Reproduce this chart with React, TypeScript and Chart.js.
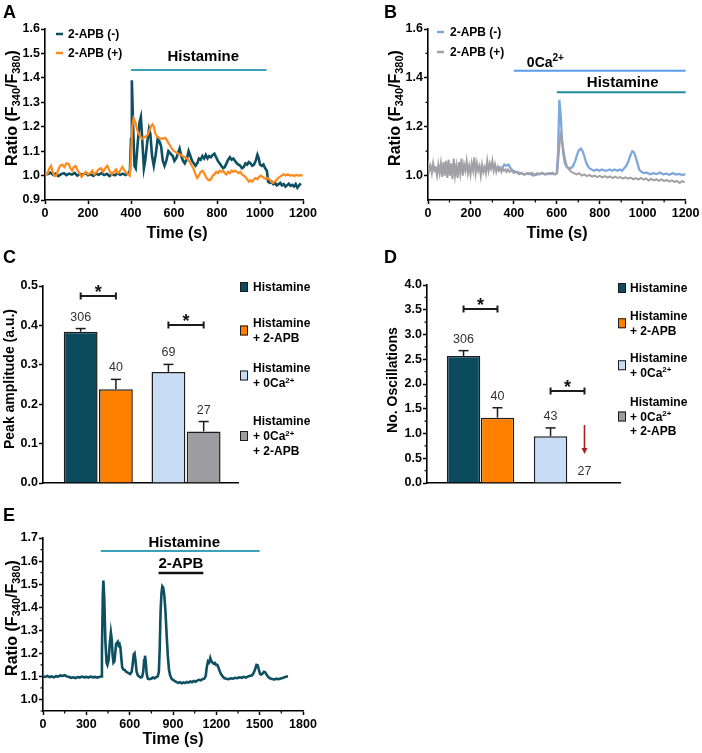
import React, { useEffect, useRef } from 'react';
import { Chart, registerables } from 'chart.js';

Chart.register(...registerables);

// ======================= DATA =======================
// Panel A
const xTicksA = [0, 200, 400, 600, 800, 1000, 1200];
const yTicksA = [0.9, 1.0, 1.1, 1.2, 1.3, 1.4, 1.5, 1.6];
const legendA = ['2-APB (-)', '2-APB (+)'];
const drugA = [{ label: 'Histamine', start: 400, end: 1030 }];
const traceA_minus: [number, number][] = [
  [0, 1.01], [12, 1.005], [25, 1.012], [38, 1.003], [50, 1.008], [62, 0.998], [75, 1.006], [88, 1.01], [100, 1.002],
  [112, 1.008], [125, 1.004], [138, 1.011], [150, 1.0], [162, 1.007], [175, 1.003], [188, 1.01], [200, 1.001],
  [212, 1.006], [225, 0.999], [238, 1.008], [250, 1.003], [262, 1.01], [275, 1.002], [288, 1.007], [300, 0.998],
  [312, 1.006], [325, 1.001], [338, 1.009], [350, 1.003], [362, 1.008], [375, 1.002], [388, 1.01], [395, 1.02],
  [400, 1.15], [404, 1.39], [410, 1.2], [416, 1.04], [422, 1.03], [430, 1.12], [440, 1.22], [446, 1.24], [452, 1.15],
  [460, 1.03], [466, 1.06], [476, 1.14], [484, 1.19], [490, 1.17], [498, 1.08], [506, 1.04], [514, 1.08], [524, 1.15],
  [532, 1.14], [540, 1.12], [548, 1.06], [556, 1.04], [564, 1.06], [574, 1.1], [584, 1.09], [594, 1.08], [602, 1.06],
  [610, 1.07], [618, 1.09], [626, 1.11], [634, 1.08], [642, 1.06], [650, 1.05], [660, 1.07], [668, 1.1], [676, 1.08],
  [684, 1.06], [692, 1.05], [700, 1.04], [708, 1.05], [716, 1.07], [724, 1.065], [732, 1.08], [740, 1.07], [748, 1.085],
  [756, 1.07], [764, 1.08], [772, 1.075], [780, 1.085], [788, 1.09], [796, 1.075], [804, 1.06], [812, 1.05], [820, 1.04],
  [828, 1.03], [836, 1.035], [844, 1.05], [852, 1.065], [860, 1.075], [868, 1.065], [876, 1.07], [884, 1.06], [892, 1.05],
  [900, 1.045], [908, 1.04], [916, 1.03], [924, 1.035], [932, 1.05], [940, 1.045], [948, 1.055], [956, 1.05], [964, 1.04],
  [972, 1.045], [980, 1.06], [988, 1.085], [994, 1.07], [1000, 1.045], [1008, 1.04], [1016, 1.045], [1024, 1.03],
  [1032, 1.02], [1038, 0.975], [1046, 0.97], [1054, 0.975], [1062, 0.965], [1070, 0.97], [1078, 0.96], [1086, 0.965],
  [1094, 0.97], [1102, 0.96], [1110, 0.965], [1118, 0.955], [1126, 0.96], [1134, 0.967], [1142, 0.958], [1150, 0.962],
  [1158, 0.955], [1166, 0.965], [1174, 0.95], [1182, 0.96], [1190, 0.968],
];
const traceA_plus: [number, number][] = [
  [0, 1.01], [10, 1.005], [20, 1.03], [28, 1.04], [36, 1.015], [44, 0.998], [52, 1.0], [60, 1.02], [70, 1.04], [80, 1.045],
  [90, 1.035], [100, 1.05], [110, 1.048], [118, 1.03], [126, 1.02], [134, 1.035], [142, 1.04], [150, 1.025], [160, 1.01],
  [170, 0.995], [180, 1.005], [190, 1.015], [200, 1.005], [210, 1.01], [220, 1.02], [230, 1.005], [240, 1.015],
  [250, 1.025], [260, 1.03], [270, 1.015], [280, 1.03], [290, 1.04], [300, 1.02], [310, 1.005], [320, 1.015], [330, 1.025],
  [340, 1.01], [350, 1.02], [360, 1.035], [370, 1.02], [380, 1.01], [388, 1.005], [394, 1.0], [400, 1.08], [406, 1.2],
  [412, 1.235], [420, 1.22], [428, 1.19], [436, 1.17], [444, 1.16], [452, 1.15], [460, 1.155], [468, 1.16], [476, 1.165],
  [484, 1.18], [492, 1.2], [500, 1.21], [506, 1.2], [514, 1.17], [522, 1.16], [530, 1.155], [540, 1.15], [550, 1.152],
  [560, 1.155], [570, 1.14], [580, 1.125], [590, 1.11], [600, 1.1], [610, 1.095], [620, 1.09], [630, 1.085], [640, 1.08],
  [650, 1.075], [660, 1.07], [670, 1.06], [680, 1.045], [690, 1.03], [700, 1.005], [708, 0.99], [716, 1.0], [724, 1.015],
  [732, 1.02], [740, 1.01], [748, 0.995], [756, 0.985], [764, 0.98], [772, 0.985], [780, 1.0], [788, 1.005], [796, 1.015],
  [804, 1.01], [812, 1.02], [820, 1.015], [828, 1.02], [836, 1.01], [844, 1.005], [852, 1.015], [860, 1.01], [868, 1.02],
  [876, 1.015], [884, 1.02], [892, 1.015], [900, 1.01], [908, 1.015], [916, 1.005], [924, 1.0], [932, 0.995], [940, 0.985],
  [948, 0.975], [956, 0.98], [964, 0.975], [972, 0.985], [980, 0.99], [988, 0.985], [996, 0.995], [1004, 1.0], [1012, 0.995],
  [1020, 0.99], [1028, 0.985], [1036, 0.99], [1044, 0.985], [1052, 0.975], [1060, 0.97], [1068, 0.975], [1076, 0.98],
  [1084, 0.99], [1092, 0.995], [1100, 1.0], [1110, 1.005], [1120, 1.0], [1130, 1.005], [1140, 1.0], [1150, 1.002],
  [1160, 0.998], [1170, 1.003], [1180, 1.0], [1190, 1.002], [1198, 1.0],
];

// Panel B
const xTicksB = [0, 200, 400, 600, 800, 1000, 1200];
const xMinorB = [100, 300, 500, 700, 900, 1100];
const yTicksB = [1.0, 1.2, 1.4, 1.6];
const yMinorB = [1.1, 1.3, 1.5];
const legendB = ['2-APB (-)', '2-APB (+)'];
const drugB = [
  { label: '0Ca2+', start: 400, end: 1200 },
  { label: 'Histamine', start: 600, end: 1200 },
];
const traceB_minus: [number, number][] = [
  [0, 1.04], [15, 1.03], [30, 1.035], [45, 1.025], [60, 1.04], [75, 1.03], [90, 1.035], [105, 1.025], [120, 1.04],
  [135, 1.03], [150, 1.035], [165, 1.03], [180, 1.04], [195, 1.03], [210, 1.035], [225, 1.025], [240, 1.03], [255, 1.02],
  [270, 1.03], [285, 1.025], [300, 1.035], [315, 1.03], [330, 1.035], [345, 1.03], [355, 1.045], [365, 1.04], [375, 1.045],
  [385, 1.03], [395, 1.02], [410, 1.015], [430, 1.01], [450, 1.005], [470, 1.01], [490, 1.0], [510, 1.005], [530, 1.01],
  [550, 1.005], [570, 1.01], [590, 1.005], [600, 1.01], [606, 1.1], [612, 1.31], [618, 1.25], [624, 1.15], [630, 1.09],
  [638, 1.05], [646, 1.035], [656, 1.03], [666, 1.03], [676, 1.04], [686, 1.06], [696, 1.09], [704, 1.105], [712, 1.11],
  [720, 1.1], [728, 1.08], [736, 1.055], [744, 1.04], [752, 1.03], [762, 1.025], [774, 1.02], [786, 1.025], [798, 1.02],
  [810, 1.025], [822, 1.02], [834, 1.02], [846, 1.025], [858, 1.02], [870, 1.025], [882, 1.02], [894, 1.025], [904, 1.02],
  [914, 1.03], [924, 1.04], [934, 1.06], [944, 1.085], [952, 1.1], [960, 1.095], [968, 1.075], [976, 1.05], [984, 1.025],
  [994, 1.015], [1006, 1.01], [1020, 1.012], [1035, 1.005], [1050, 1.01], [1065, 1.006], [1080, 1.012], [1095, 1.005],
  [1110, 1.008], [1125, 1.003], [1140, 1.01], [1155, 1.004], [1170, 1.007], [1185, 1.002], [1200, 1.006],
];
const traceB_plus: [number, number][] = [
  [0, 1.06], [6, 1.02], [12, 1.04], [18, 1.01], [24, 1.05], [30, 1.02], [36, 1.03], [42, 1.0], [48, 1.045], [54, 1.01],
  [60, 1.05], [66, 0.995], [72, 1.055], [78, 1.0], [84, 1.06], [90, 0.99], [96, 1.065], [102, 1.0], [108, 1.05], [114, 0.985],
  [120, 1.07], [126, 1.0], [132, 1.04], [138, 0.99], [144, 1.055], [150, 1.01], [156, 1.07], [162, 1.0], [168, 1.045],
  [174, 1.02], [180, 1.06], [186, 1.01], [192, 1.04], [198, 1.005], [204, 1.05], [210, 1.02], [216, 1.075], [222, 1.01],
  [228, 1.05], [234, 1.02], [240, 1.04], [246, 1.0], [252, 1.045], [258, 1.015], [264, 1.035], [270, 1.01], [276, 1.06],
  [282, 1.02], [288, 1.05], [294, 1.03], [300, 1.06], [306, 1.02], [312, 1.045], [318, 1.015], [324, 1.035], [330, 1.02],
  [336, 1.03], [342, 1.015], [348, 1.03], [354, 1.02], [360, 1.025], [366, 1.015], [372, 1.025], [380, 1.015], [390, 1.02],
  [400, 1.01], [412, 1.015], [424, 1.005], [436, 1.012], [448, 1.003], [460, 1.01], [472, 1.005], [484, 1.012], [496, 1.003],
  [508, 1.01], [520, 1.005], [532, 1.012], [544, 1.004], [556, 1.01], [568, 1.005], [580, 1.012], [592, 1.004], [602, 1.01],
  [610, 1.1], [617, 1.17], [622, 1.16], [630, 1.11], [638, 1.07], [646, 1.04], [656, 1.025], [668, 1.015], [680, 1.01],
  [692, 1.005], [704, 1.01], [716, 1.0], [728, 1.005], [740, 0.998], [752, 1.003], [764, 0.996], [776, 1.0], [788, 0.994],
  [800, 0.999], [812, 0.993], [824, 0.998], [836, 0.992], [848, 0.997], [860, 0.99], [872, 0.996], [884, 0.99], [896, 0.994],
  [908, 0.988], [920, 0.993], [932, 0.987], [944, 0.992], [956, 0.985], [968, 0.99], [980, 0.984], [992, 0.99], [1004, 0.983],
  [1016, 0.988], [1028, 0.98], [1040, 0.986], [1052, 0.98], [1064, 0.985], [1076, 0.978], [1088, 0.984], [1100, 0.977],
  [1112, 0.982], [1124, 0.975], [1136, 0.98], [1148, 0.974], [1160, 0.978], [1172, 0.97], [1184, 0.977], [1196, 0.972],
];

// Panels C and D
const barCategories = ['Histamine', 'Histamine + 2-APB', 'Histamine + 0Ca2+', 'Histamine + 0Ca2+ + 2-APB'];
const yTicksC = [0, 0.1, 0.2, 0.3, 0.4, 0.5];
const peakMean = [0.384, 0.238, 0.282, 0.131];
const peakSem = [0.008, 0.025, 0.019, 0.025];
const peakN = [306, 40, 69, 27];
const peakSig: [number, number][] = [[0, 1], [2, 3]];

const yTicksD = [0, 0.5, 1.0, 1.5, 2.0, 2.5, 3.0, 3.5, 4.0];
const yMinorD = [0.25, 0.75, 1.25, 1.75, 2.25, 2.75, 3.25, 3.75];
const oscMean = [2.567, 1.32, 0.945, 0];
const oscSem = [0.107, 0.2, 0.168, 0];
const oscN = [306, 40, 43, 27];
const oscSig: [number, number][] = [[0, 1], [2, 3]];

// Panel E
const xTicksE = [0, 300, 600, 900, 1200, 1500, 1800];
const xMinorE = [150, 450, 750, 1050, 1350, 1650];
const yTicksE = [1.0, 1.1, 1.2, 1.3, 1.4, 1.5, 1.6, 1.7];
const yMinorE = [0.95, 1.05, 1.15, 1.25, 1.35, 1.45, 1.55, 1.65];
const drugE = [
  { label: 'Histamine', start: 400, end: 1500 },
  { label: '2-APB', start: 800, end: 1110 },
];
const traceE: [number, number][] = [
  [0, 1.1], [15, 1.098], [30, 1.102], [45, 1.097], [60, 1.1], [75, 1.096], [90, 1.101], [105, 1.099], [120, 1.104],
  [135, 1.102], [150, 1.105], [165, 1.1], [180, 1.097], [195, 1.094], [210, 1.096], [225, 1.093], [240, 1.097], [255, 1.095],
  [270, 1.099], [285, 1.096], [300, 1.098], [315, 1.095], [330, 1.099], [345, 1.096], [360, 1.098], [375, 1.095], [390, 1.097],
  [402, 1.1], [408, 1.2], [414, 1.45], [418, 1.515], [424, 1.44], [432, 1.25], [440, 1.16], [446, 1.15], [454, 1.17],
  [462, 1.24], [470, 1.29], [476, 1.26], [482, 1.19], [488, 1.16], [494, 1.165], [500, 1.2], [506, 1.24], [512, 1.245],
  [518, 1.25], [524, 1.235], [530, 1.24], [536, 1.225], [542, 1.18], [548, 1.14], [556, 1.13], [566, 1.128], [576, 1.12],
  [590, 1.115], [604, 1.11], [614, 1.12], [622, 1.16], [628, 1.195], [634, 1.2], [640, 1.17], [648, 1.12], [656, 1.105],
  [666, 1.1], [676, 1.095], [686, 1.098], [694, 1.12], [700, 1.17], [706, 1.19], [712, 1.16], [718, 1.11], [726, 1.09],
  [736, 1.088], [748, 1.09], [760, 1.095], [772, 1.092], [784, 1.097], [794, 1.1], [802, 1.12], [808, 1.22], [814, 1.38],
  [820, 1.46], [826, 1.49], [832, 1.485], [840, 1.45], [848, 1.38], [856, 1.28], [864, 1.19], [872, 1.13], [880, 1.105],
  [890, 1.09], [900, 1.085], [912, 1.08], [924, 1.075], [936, 1.072], [948, 1.075], [960, 1.07], [972, 1.074], [984, 1.071],
  [996, 1.076], [1008, 1.073], [1020, 1.078], [1032, 1.075], [1044, 1.08], [1056, 1.077], [1068, 1.082], [1080, 1.085],
  [1092, 1.083], [1104, 1.088], [1116, 1.09], [1126, 1.1], [1134, 1.14], [1142, 1.165], [1150, 1.16], [1158, 1.18],
  [1166, 1.165], [1174, 1.16], [1182, 1.155], [1190, 1.158], [1198, 1.15], [1206, 1.15], [1214, 1.14], [1222, 1.125],
  [1232, 1.11], [1244, 1.1], [1256, 1.092], [1270, 1.09], [1285, 1.088], [1300, 1.092], [1315, 1.09], [1330, 1.094],
  [1345, 1.092], [1360, 1.096], [1375, 1.094], [1390, 1.098], [1405, 1.095], [1420, 1.1], [1435, 1.103], [1448, 1.105],
  [1458, 1.115], [1468, 1.13], [1478, 1.15], [1486, 1.148], [1494, 1.13], [1502, 1.112], [1510, 1.108], [1520, 1.112],
  [1530, 1.12], [1538, 1.118], [1546, 1.11], [1556, 1.1], [1568, 1.093], [1580, 1.09], [1592, 1.088], [1604, 1.087],
  [1616, 1.09], [1628, 1.088], [1640, 1.09], [1652, 1.092], [1664, 1.094], [1676, 1.098], [1688, 1.1], [1696, 1.101],
];

// Axis titles
const ratioTitle = 'Ratio (F340/F380)';
const timeTitle = 'Time (s)';
const peakTitle = 'Peak amplitude (a.u.)';
const oscTitle = 'No. Oscillations';

// ======================= STYLE =======================
const FONT = "'Liberation Sans', Arial, Helvetica, sans-serif";
const TEAL = '#0e4f61';
const ORANGE = '#ff8a1c';
const BLUE = '#7fa7dc';
const GRAY = '#a1a1a5';
const HIST_LINE = '#3aa1b6';
const HIST_LINE_B = '#1e8b9c';
const CA_LINE = '#5b9de8';
const BAR_COLORS = ['#0b4b5d', '#ff8000', '#c8ddf5', '#9d9da1'];
const BAR_EDGE = '#1c1c1c';
const TICK_SIZE = 12.5;

type Seg = { t: string; sub?: boolean; sup?: boolean };

function rich(s: string): Seg[] {
  const out: Seg[] = [];
  const re = /(F)(\d{3})|(Ca)(2\+)/g;
  let last = 0;
  let m: RegExpExecArray | null;
  while ((m = re.exec(s))) {
    const head = m[1] || m[3];
    const tail = m[2] || m[4];
    out.push({ t: s.slice(last, m.index) + head });
    out.push({ t: tail, sub: !!m[2], sup: !!m[4] });
    last = m.index + m[0].length;
  }
  if (last < s.length) out.push({ t: s.slice(last) });
  return out;
}

function fnt(size: number, weight = 'bold') {
  return `${weight} ${size}px ${FONT}`;
}

function drawText(ctx: CanvasRenderingContext2D, s: string, x: number, y: number, size: number,
  align: 'left' | 'center' | 'right' = 'left', color = '#000', weight = 'bold') {
  const segs = rich(s);
  const items = segs.map((sg) => {
    const fs = sg.sub || sg.sup ? Math.round(size * 0.7) : size;
    ctx.font = fnt(fs, weight);
    return { sg, fs, w: ctx.measureText(sg.t).width };
  });
  const total = items.reduce((a, b) => a + b.w, 0);
  let cx = align === 'center' ? x - total / 2 : align === 'right' ? x - total : x;
  const base = y + size * 0.36;
  ctx.fillStyle = color;
  ctx.textAlign = 'left';
  ctx.textBaseline = 'alphabetic';
  for (const it of items) {
    ctx.font = fnt(it.fs, weight);
    const by = it.sg.sub ? base + size * 0.22 : it.sg.sup ? base - size * 0.4 : base;
    ctx.fillText(it.sg.t, cx, by);
    cx += it.w;
  }
}

function drawRotated(ctx: CanvasRenderingContext2D, s: string, cx: number, cy: number, size: number) {
  ctx.save();
  ctx.translate(cx, cy);
  ctx.rotate(-Math.PI / 2);
  drawText(ctx, s, 0, 0, size, 'center');
  ctx.restore();
}

function seg(ctx: CanvasRenderingContext2D, x1: number, y1: number, x2: number, y2: number) {
  ctx.beginPath();
  ctx.moveTo(x1, y1);
  ctx.lineTo(x2, y2);
  ctx.stroke();
}

function minorTicks(ctx: CanvasRenderingContext2D, chart: any, axis: 'x' | 'y', values: number[]) {
  const s = chart.scales[axis];
  const a = chart.chartArea;
  ctx.strokeStyle = '#000';
  ctx.lineWidth = 1.2;
  ctx.beginPath();
  for (const v of values) {
    const p = s.getPixelForValue(v);
    if (axis === 'x') { ctx.moveTo(p, a.bottom); ctx.lineTo(p, a.bottom + 2.5); }
    else { ctx.moveTo(a.left - 2.5, p); ctx.lineTo(a.left, p); }
  }
  ctx.stroke();
}

const overlay = (id: string, draw: (chart: any, ctx: CanvasRenderingContext2D) => void) => ({
  id,
  afterDraw(chart: any) {
    const ctx = chart.ctx;
    ctx.save();
    draw(chart, ctx);
    ctx.restore();
  },
});

function linAxis(o: { min: number; max: number; ticks: number[]; fmt: (v: number) => string; size: number; horizontal: boolean }) {
  return {
    type: 'linear',
    min: o.min,
    max: o.max,
    offset: false,
    afterBuildTicks: (s: any) => { s.ticks = o.ticks.map((v) => ({ value: v })); },
    afterFit: (s: any) => { if (o.horizontal) s.height = o.size; else s.width = o.size; },
    grid: { display: true, drawOnChartArea: false, drawTicks: true, tickLength: 4, tickColor: '#000', tickWidth: 1.5, offset: false },
    border: { display: true, color: '#000', width: 1.6 },
    ticks: {
      autoSkip: false, maxRotation: 0, minRotation: 0, padding: o.horizontal ? 2.5 : 1, color: '#000',
      font: { family: FONT, size: TICK_SIZE, weight: 'bold' },
      callback: (v: any) => o.fmt(Number(v)),
    },
  };
}

const f1 = (v: number) => v.toFixed(1);
const f0 = (v: number) => String(Math.round(v));
const pts = (arr: [number, number][]) => arr.map(([x, y]) => ({ x, y }));

function baseOptions(cw: number, ch: number, area: { l: number; r: number; t: number; b: number }, yW: number, xH: number) {
  return {
    responsive: false,
    maintainAspectRatio: false,
    animation: false,
    devicePixelRatio: 1,
    events: [],
    layout: { autoPadding: false, padding: { left: area.l - yW, right: cw - area.r, top: area.t, bottom: ch - area.b - xH } },
    plugins: { legend: { display: false }, tooltip: { enabled: false }, title: { display: false } },
  };
}

function lineDs(arr: [number, number][], color: string, width: number, order: number) {
  return { data: pts(arr), borderColor: color, backgroundColor: color, borderWidth: width, pointRadius: 0, tension: 0, order, fill: false };
}

// ---------- Panel A ----------
function configA() {
  const cw = 351, ch = 250;
  const area = { l: 45, r: 303, t: 29, b: 200 };
  const colors = [TEAL, ORANGE];
  return {
    type: 'line',
    data: { datasets: [lineDs(traceA_minus, TEAL, 2.6, 1), lineDs(traceA_plus, ORANGE, 2.2, 0)] },
    options: {
      ...baseOptions(cw, ch, area, 40, 30),
      scales: {
        x: linAxis({ min: 0, max: 1200, ticks: xTicksA, fmt: f0, size: 30, horizontal: true }),
        y: linAxis({ min: 0.9, max: 1.6, ticks: yTicksA, fmt: f1, size: 40, horizontal: false }),
      },
    },
    plugins: [overlay('ovA', (chart, ctx) => {
      const x = chart.scales.x;
      drawText(ctx, 'A', 3, 11.5, 18);
      legendA.forEach((lab, i) => {
        const y = [34, 53][i];
        ctx.strokeStyle = colors[i];
        ctx.lineWidth = 2.5;
        seg(ctx, 56, y, 63, y);
        drawText(ctx, lab, 68, y, 12);
      });
      const d = drugA[0];
      const x1 = x.getPixelForValue(d.start), x2 = x.getPixelForValue(d.end);
      ctx.strokeStyle = HIST_LINE;
      ctx.lineWidth = 2;
      seg(ctx, x1, 70, x2, 70);
      drawText(ctx, d.label, (x1 + x2) / 2 + 4.5, 56, 15, 'center');
      drawRotated(ctx, ratioTitle, 11, 108, 16);
      drawText(ctx, timeTitle, 177, 232, 16, 'center');
    })],
  };
}

// ---------- Panel B ----------
function configB() {
  const cw = 351, ch = 250;
  const area = { l: 77, r: 336, t: 29, b: 200 };
  const colors = [BLUE, GRAY];
  return {
    type: 'line',
    data: { datasets: [lineDs(traceB_minus, BLUE, 2.3, 1), lineDs(traceB_plus, GRAY, 2, 0)] },
    options: {
      ...baseOptions(cw, ch, area, 40, 30),
      scales: {
        x: linAxis({ min: 0, max: 1200, ticks: xTicksB, fmt: f0, size: 30, horizontal: true }),
        y: linAxis({ min: 0.9, max: 1.6, ticks: yTicksB, fmt: f1, size: 40, horizontal: false }),
      },
    },
    plugins: [overlay('ovB', (chart, ctx) => {
      const x = chart.scales.x;
      minorTicks(ctx, chart, 'x', xMinorB);
      minorTicks(ctx, chart, 'y', yMinorB);
      drawText(ctx, 'B', 33, 11.5, 18);
      legendB.forEach((lab, i) => {
        const y = [32, 52][i];
        ctx.strokeStyle = colors[i];
        ctx.lineWidth = 2.5;
        seg(ctx, 86, y, 93, y);
        drawText(ctx, lab, 99, y, 12);
      });
      const ca = drugB[0];
      let x1 = x.getPixelForValue(ca.start), x2 = x.getPixelForValue(ca.end);
      ctx.strokeStyle = CA_LINE;
      ctx.lineWidth = 2;
      seg(ctx, x1, 70.7, x2, 70.7);
      drawText(ctx, ca.label, x1 + 13, 62, 14, 'left');
      const h = drugB[1];
      x1 = x.getPixelForValue(h.start); x2 = x.getPixelForValue(h.end);
      ctx.strokeStyle = HIST_LINE_B;
      ctx.lineWidth = 2;
      seg(ctx, x1, 92.3, x2, 92.3);
      drawText(ctx, h.label, (x1 + x2) / 2 + 1.5, 82, 15, 'center');
      drawRotated(ctx, ratioTitle, 43, 108, 16);
      drawText(ctx, timeTitle, 206, 232, 16, 'center');
    })],
  };
}

// ---------- Bar panels ----------
function barEl(chart: any, i: number) {
  return chart.getDatasetMeta(i % 2).data[Math.floor(i / 2)];
}

function barConfig(o: {
  id: string; letter: string; area: { l: number; r: number; t: number; b: number };
  means: number[]; sems: number[]; ns: number[]; sig: [number, number][]; sigY: number[];
  yMax: number; yTicks: number[]; yMinor: number[]; xMin: number; xMax: number; cp: number; bp: number;
  title: string; titleX: number; titleY: number;
  legendX: number; legendTextDx: number; legendTops: number[]; legendLH: number; arrow: boolean;
}) {
  const cw = 351, ch = 260;
  const datasets = [0, 1].map((d) => ({
    data: [0, 1].map((g) => ({ x: g + 1, y: o.means[g * 2 + d] })),
    backgroundColor: [0, 1].map((g) => BAR_COLORS[g * 2 + d]),
    borderColor: BAR_EDGE,
    borderWidth: 1.5,
    categoryPercentage: o.cp,
    barPercentage: o.bp,
  }));
  return {
    type: 'bar',
    data: { datasets },
    options: {
      ...baseOptions(cw, ch, o.area, 38, 10),
      scales: {
        x: {
          type: 'linear', min: o.xMin, max: o.xMax, offset: false,
          afterBuildTicks: (s: any) => { s.ticks = [{ value: 1 }, { value: 2 }]; },
          afterFit: (s: any) => { s.height = 10; },
          grid: { display: true, drawOnChartArea: false, drawTicks: false, offset: false },
          border: { display: true, color: '#000', width: 1.6 },
          ticks: { display: false },
        },
        y: linAxis({ min: 0, max: o.yMax, ticks: o.yTicks, fmt: f1, size: 38, horizontal: false }),
      },
    },
    plugins: [overlay(o.id, (chart, ctx) => {
      const y = chart.scales.y;
      if (o.yMinor.length) minorTicks(ctx, chart, 'y', o.yMinor);
      drawText(ctx, o.letter, o.letter === 'C' ? 3 : 33, 16.5, 18);
      // error bars + n labels
      o.means.forEach((m, i) => {
        const el = barEl(chart, i);
        const top = y.getPixelForValue(m + o.sems[i]);
        const barTop = y.getPixelForValue(m);
        ctx.strokeStyle = BAR_EDGE;
        ctx.lineWidth = 1.5;
        if (o.sems[i] > 0) {
          seg(ctx, el.x, barTop, el.x, top);
          seg(ctx, el.x - 5, top, el.x + 5, top);
        }
        drawText(ctx, String(o.ns[i]), el.x, top - 12.5, 12.5, 'center', '#333', 'normal');
      });
      // significance brackets
      o.sig.forEach(([a, b], k) => {
        const xa = barEl(chart, a).x, xb = barEl(chart, b).x;
        const yb = o.sigY[k];
        ctx.strokeStyle = BAR_EDGE;
        ctx.lineWidth = 2;
        seg(ctx, xa, yb, xb, yb);
        seg(ctx, xa, yb - 3.5, xa, yb + 3.5);
        seg(ctx, xb, yb - 3.5, xb, yb + 3.5);
        ctx.font = fnt(18);
        ctx.fillStyle = '#111';
        ctx.textAlign = 'center';
        ctx.textBaseline = 'alphabetic';
        ctx.fillText('*', (xa + xb) / 2, yb + 1.5);
      });
      // red arrow on the empty bar
      if (o.arrow) {
        const el = barEl(chart, 3);
        const base = y.getPixelForValue(0);
        ctx.strokeStyle = '#a8201f';
        ctx.fillStyle = '#a8201f';
        ctx.lineWidth = 1.6;
        seg(ctx, el.x, base - 58, el.x, base - 34);
        ctx.beginPath();
        ctx.moveTo(el.x - 3, base - 35);
        ctx.lineTo(el.x + 3, base - 35);
        ctx.lineTo(el.x, base - 29);
        ctx.closePath();
        ctx.fill();
      }
      // legend
      barCategories.forEach((cat, i) => {
        const lines = cat.split(' + ').map((p, j) => (j ? '+ ' + p : p));
        const top = o.legendTops[i];
        lines.forEach((ln, j) => drawText(ctx, ln, o.legendX + o.legendTextDx, top + j * o.legendLH, 12));
        const cy = top + ((lines.length - 1) * o.legendLH) / 2;
        ctx.fillStyle = BAR_COLORS[i];
        ctx.fillRect(o.legendX, cy - 5, 8, 10);
        ctx.strokeStyle = BAR_EDGE;
        ctx.lineWidth = 1;
        ctx.strokeRect(o.legendX + 0.5, cy - 4.5, 7, 9);
      });
      drawRotated(ctx, o.title, o.titleX, o.titleY, 14);
    })],
  };
}

function configC() {
  return barConfig({
    id: 'ovC', letter: 'C', area: { l: 43, r: 238, t: 46, b: 243 },
    means: peakMean, sems: peakSem, ns: peakN, sig: peakSig, sigY: [56, 85],
    yMax: 0.5, yTicks: yTicksC, yMinor: [], xMin: 0.37, xMax: 2.592, cp: 0.803, bp: 0.96,
    title: peakTitle, titleX: 9, titleY: 139,
    legendX: 240, legendTextDx: 13, legendTops: [47, 83, 128, 181], legendLH: 15, arrow: false,
  });
}

function configD() {
  return barConfig({
    id: 'ovD', letter: 'D', area: { l: 76, r: 269, t: 45, b: 243 },
    means: oscMean, sems: oscSem, ns: oscN, sig: oscSig, sigY: [69, 151],
    yMax: 4, yTicks: yTicksD, yMinor: yMinorD, xMin: 0.385, xMax: 2.603, cp: 0.78, bp: 0.985,
    title: oscTitle, titleX: 41, titleY: 140,
    legendX: 267, legendTextDx: 12, legendTops: [48, 76, 118, 162], legendLH: 14.5, arrow: true,
  });
}

// ---------- Panel E ----------
function configE() {
  const cw = 351, ch = 253;
  const area = { l: 43, r: 303, t: 38, b: 211 };
  return {
    type: 'line',
    data: { datasets: [lineDs(traceE, TEAL, 2.6, 0)] },
    options: {
      ...baseOptions(cw, ch, area, 38, 30),
      scales: {
        x: linAxis({ min: 0, max: 1800, ticks: xTicksE, fmt: f0, size: 30, horizontal: true }),
        y: linAxis({ min: 0.95, max: 1.7, ticks: yTicksE, fmt: f1, size: 38, horizontal: false }),
      },
    },
    plugins: [overlay('ovE', (chart, ctx) => {
      const x = chart.scales.x;
      minorTicks(ctx, chart, 'x', xMinorE);
      minorTicks(ctx, chart, 'y', yMinorE);
      drawText(ctx, 'E', 3, 15, 18);
      const h = drugE[0];
      let x1 = x.getPixelForValue(h.start), x2 = x.getPixelForValue(h.end);
      ctx.strokeStyle = HIST_LINE;
      ctx.lineWidth = 2;
      seg(ctx, x1, 51, x2, 51);
      drawText(ctx, h.label, (x1 + x2) / 2 + 4, 42, 15, 'center');
      const a = drugE[1];
      x1 = x.getPixelForValue(a.start); x2 = x.getPixelForValue(a.end);
      ctx.strokeStyle = '#111';
      ctx.lineWidth = 2.5;
      seg(ctx, x1, 73, x2, 73);
      drawText(ctx, a.label, (x1 + x2) / 2, 63, 15, 'center');
      drawRotated(ctx, ratioTitle, 11, 118, 16);
      drawText(ctx, timeTitle, 173, 238, 16, 'center');
    })],
  };
}

// ======================= COMPONENTS =======================
function ChartPanel(props: { left: number; top: number; width: number; height: number; make: () => any }) {
  const ref = useRef<HTMLCanvasElement>(null);
  useEffect(() => {
    const chart = new Chart(ref.current as HTMLCanvasElement, props.make());
    return () => chart.destroy();
  }, []);
  return (
    <canvas
      ref={ref}
      width={props.width}
      height={props.height}
      style={{ position: 'absolute', left: props.left, top: props.top, width: props.width, height: props.height }}
    />
  );
}

export default function App() {
  return (
    <div style={{ position: 'absolute', left: 0, top: 0, width: 702, height: 753, background: '#fff', overflow: 'hidden' }}>
      <ChartPanel left={0} top={0} width={351} height={250} make={configA} />
      <ChartPanel left={351} top={0} width={351} height={250} make={configB} />
      <ChartPanel left={0} top={240} width={351} height={260} make={configC} />
      <ChartPanel left={351} top={240} width={351} height={260} make={configD} />
      <ChartPanel left={0} top={500} width={351} height={253} make={configE} />
    </div>
  );
}
